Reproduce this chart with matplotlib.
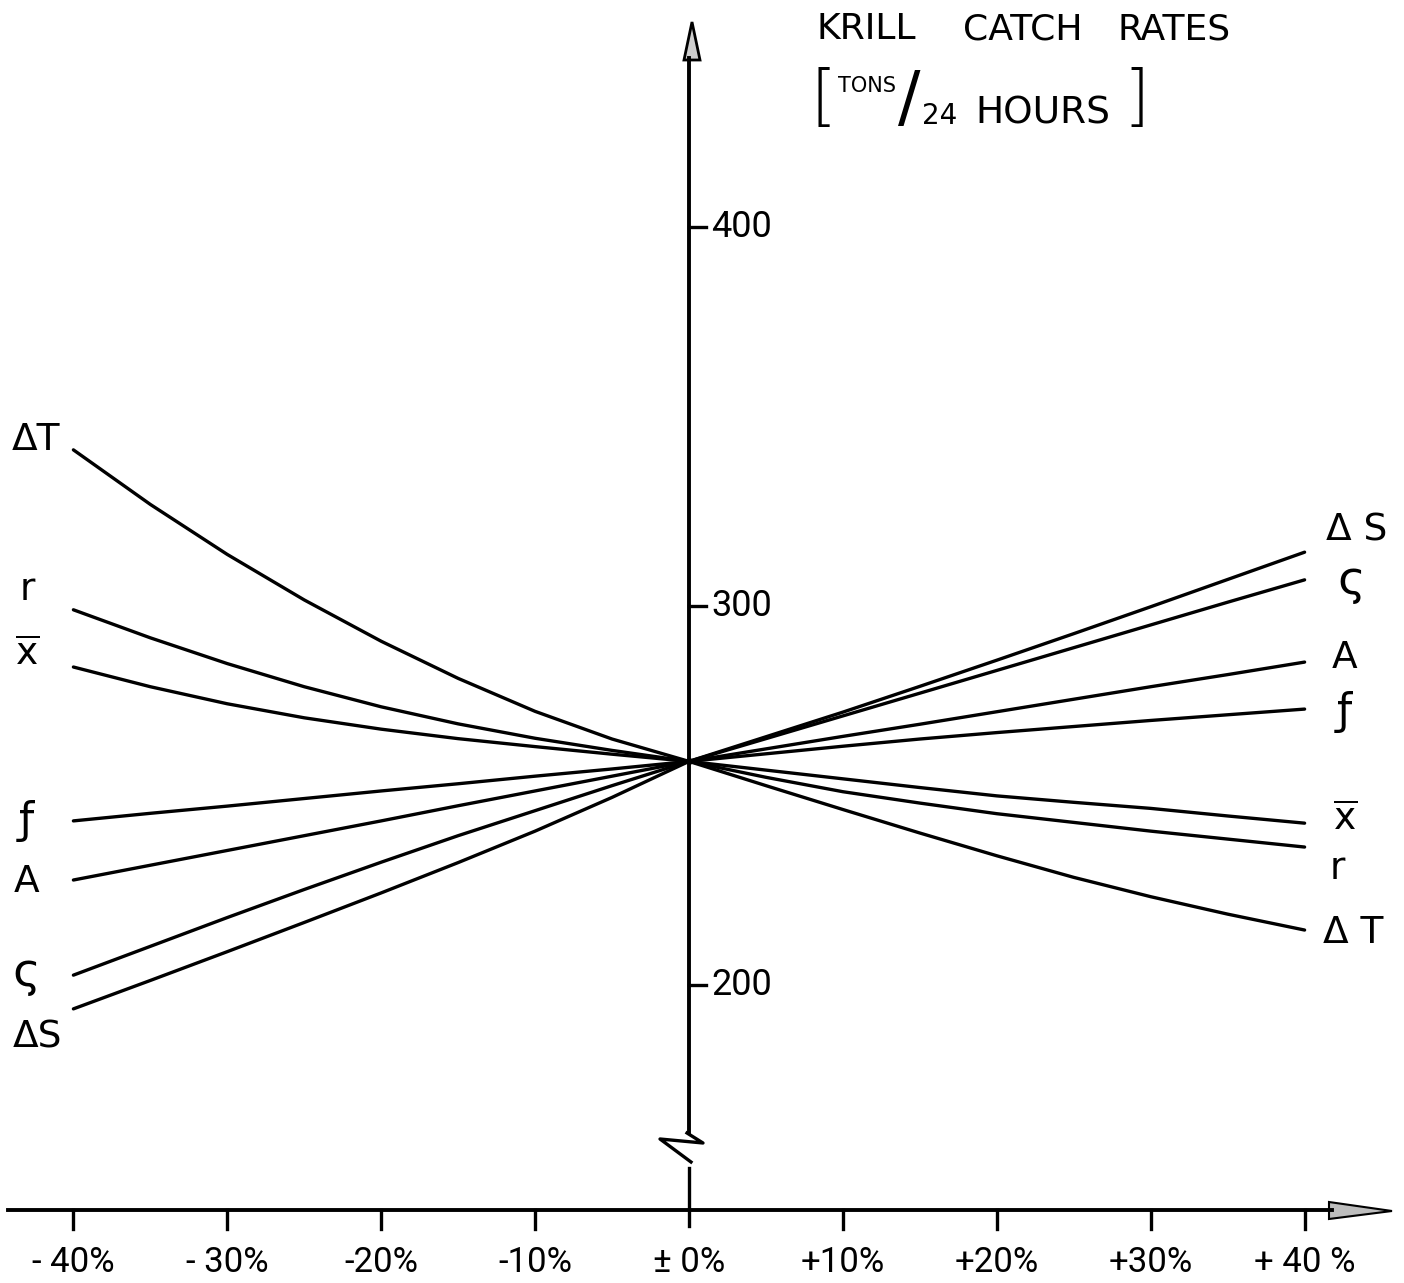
import matplotlib
matplotlib.use("Agg")
import matplotlib.pyplot as plt
from matplotlib import font_manager
from matplotlib.patches import Polygon

# ---------------- data ----------------
pct = [-40, -35, -30, -25, -20, -15, -10, -5, 0, 5, 10, 15, 20, 25, 30, 35, 40]
dT   = [341.2, 326.8, 313.6, 301.6, 290.7, 280.9, 272.2, 264.9, 259.0,
        252.6, 246.3, 240.1, 234.1, 228.4, 223.3, 218.7, 214.5]
r    = [299.0, 291.6, 284.8, 278.7, 273.4, 268.9, 265.1, 261.9, 259.0,
        254.8, 251.0, 248.0, 245.2, 242.9, 240.6, 238.5, 236.4]
xbar = [283.9, 278.7, 274.2, 270.5, 267.5, 265.0, 262.9, 260.9, 259.0,
        256.7, 254.4, 252.1, 249.9, 248.2, 246.6, 244.6, 242.7]
f    = [243.3, 245.3, 247.2, 249.2, 251.2, 253.1, 255.1, 257.0, 259.0,
        261.0, 263.0, 264.9, 266.6, 268.2, 269.8, 271.3, 272.8]
A    = [227.7, 231.6, 235.5, 239.4, 243.3, 247.3, 251.2, 255.1, 259.0,
        262.3, 265.6, 268.8, 272.1, 275.4, 278.7, 281.9, 285.2]
sig  = [202.6, 210.2, 217.8, 225.2, 232.4, 239.4, 246.0, 252.6, 259.0,
        265.0, 271.0, 277.0, 283.0, 289.0, 295.0, 301.0, 306.9]
dS   = [193.7, 201.2, 208.8, 216.5, 224.3, 232.3, 240.6, 249.5, 259.0,
        265.5, 272.0, 278.8, 285.7, 292.7, 299.8, 307.0, 314.2]

series = [dT, r, xbar, f, A, sig, dS]
left_labels  = ["ΔT", "r", r"$\overline{\mathregular{x}}$", "ƒ", "A", "ς", "ΔS"]
right_labels = ["Δ T", "r", r"$\overline{\mathregular{x}}$", "ƒ", "A", "ς", "Δ S"]

y_ticks = [200, 300, 400]
y_tick_labels = ["200", "300", "400"]
x_ticks = [-40, -30, -20, -10, 0, 10, 20, 30, 40]
x_tick_labels = ["- 40%", "- 30%", "-20%", "-10%", "± 0%", "+10%", "+20%", "+30%", "+ 40 %"]

# ---------------- layout ----------------
W, H = 1404, 1283
X0, SX = 689.0, 15.39      # pixel of 0 %, pixels per %
Y300, SY = 606.0, 3.79     # pixel of 300, pixels per unit

def dx(px):
    return (px - X0) / SX

def dy(py):
    return 300 - (py - Y300) / SY

avail = {fe.name for fe in font_manager.fontManager.ttflist}
num_font = "Roboto" if "Roboto" in avail else "DejaVu Sans"
TXT = "DejaVu Sans"

fig = plt.figure(figsize=(W / 100, H / 100), dpi=100)
ax = fig.add_axes([0, 0, 1, 1])
ax.set_xlim(dx(0), dx(W))
ax.set_ylim(dy(H), dy(0))
ax.axis("off")

LW = 2.4
# series lines
for vals in series:
    ax.plot(pct, vals, color="black", lw=LW, solid_capstyle="round", solid_joinstyle="round")
ax.plot([0], [dT[8]], "o", color="black", ms=4)

# series labels (size per glyph to match the hand lettering)
sizes = [27, 27, 27, 31, 27, 34, 27]
left_off = [(-37, 10), (-46, 20), (-46, 12), (-47, 0), (-47, -2), (-47, 2), (-36, -29)]
right_off = [(49, -3), (33, -22), (40, 3), (40, -3), (40, 4), (47, -2), (52, 22)]
for vals, lab, off, fs in zip(series, left_labels, left_off, sizes):
    ax.annotate(lab, xy=(pct[0], vals[0]), xytext=off, textcoords="offset pixels",
                ha="center", va="center", fontsize=fs, family=TXT)
for vals, lab, off, fs in zip(series, right_labels, right_off, sizes):
    ax.annotate(lab, xy=(pct[-1], vals[-1]), xytext=off, textcoords="offset pixels",
                ha="center", va="center", fontsize=fs, family=TXT)

# y axis with break
ax.plot([0, 0], [dy(1133), dy(58)], color="black", lw=LW + 0.4)
ax.plot([dx(687), dx(703), dx(660), dx(691)], [dy(1133), dy(1143), dy(1139), dy(1162)],
        color="black", lw=LW)
ax.plot([0, 0], [dy(1168), dy(1226)], color="black", lw=LW)
ax.add_patch(Polygon([(dx(684), dy(60)), (dx(692), dy(22)), (dx(700), dy(60))],
                     closed=True, facecolor="#cfcfcf", edgecolor="black", lw=2))

# y ticks
for v, t in zip(y_ticks, y_tick_labels):
    ax.plot([0, dx(706)], [v, v], color="black", lw=LW)
    ax.text(dx(711), v, t, ha="left", va="center", fontsize=26, family=num_font)

# x axis
x_axis_y = dy(1210)
ax.plot([dx(8), dx(1332)], [x_axis_y, x_axis_y], color="black", lw=LW + 0.4)
ax.add_patch(Polygon([(dx(1329), dy(1202)), (dx(1392), dy(1211)), (dx(1329), dy(1219))],
                     closed=True, facecolor="#bdbdbd", edgecolor="black", lw=1.5))
for t, lab in zip(x_ticks, x_tick_labels):
    if t != 0:
        ax.plot([t, t], [x_axis_y, dy(1229)], color="black", lw=LW)
    ax.text(t, dy(1263), lab, ha="center", va="center", fontsize=25, family=num_font)

# title
for word, px in zip(["KRILL", "CATCH", "RATES"], [817, 963, 1118]):
    ax.text(dx(px), dy(29), word, ha="left", va="center", fontsize=26, family=TXT)
ax.text(dx(824), dy(100), "[", ha="center", va="center", fontsize=48, family=TXT,
        fontweight="light")
ax.text(dx(838), dy(86), "TONS", ha="left", va="center", fontsize=15, family=TXT)
ax.text(dx(909), dy(101), "/", ha="center", va="center", fontsize=48, family=TXT)
ax.text(dx(922), dy(116), "24", ha="left", va="center", fontsize=20, family=TXT)
ax.text(dx(975), dy(113), "HOURS", ha="left", va="center", fontsize=27, family=TXT)
ax.text(dx(1136), dy(100), "]", ha="center", va="center", fontsize=48, family=TXT,
        fontweight="light")

fig.savefig("out.png", dpi=100, facecolor="white")
